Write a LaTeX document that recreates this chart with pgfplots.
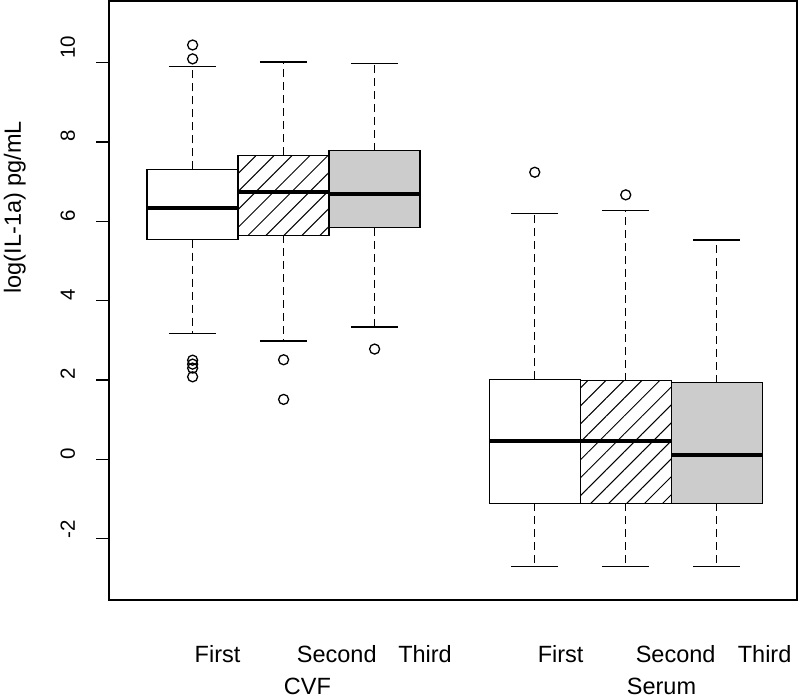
\documentclass[border=0pt]{standalone}
\usepackage{fontspec}
\setmainfont{Liberation Sans}
\usepackage{pgfplots}
\pgfplotsset{compat=1.18}
\usepgfplotslibrary{statistics}
\usetikzlibrary{patterns.meta}
\definecolor{boxgray}{RGB}{204,204,204}
\pgfplotsset{
  boxplot/draw/lower whisker/.code={%
    \draw[black, line width=1.3pt, dash pattern=on 8pt off 5pt]
      (boxplot cs:\pgfplotsboxplotvalue{lower quartile}) --
      (boxplot cs:\pgfplotsboxplotvalue{lower whisker});
    \draw[black, line width=1.3pt, solid]
      (boxplot whisker cs:\pgfplotsboxplotvalue{lower whisker},0) --
      (boxplot whisker cs:\pgfplotsboxplotvalue{lower whisker},1);
  },
  boxplot/draw/upper whisker/.code={%
    \draw[black, line width=1.3pt, dash pattern=on 8pt off 5pt]
      (boxplot cs:\pgfplotsboxplotvalue{upper quartile}) --
      (boxplot cs:\pgfplotsboxplotvalue{upper whisker});
    \draw[black, line width=1.3pt, solid]
      (boxplot whisker cs:\pgfplotsboxplotvalue{upper whisker},0) --
      (boxplot whisker cs:\pgfplotsboxplotvalue{upper whisker},1);
  },
  myout/.style={draw=black, line width=1.3pt, mark=o, mark size=5pt,
    mark options={solid, draw=black, fill=none, line width=1.3pt}},
}
\newcommand{\lab}{\fontsize{23.5}{28}\selectfont}
\newcommand{\tck}{\fontsize{20.5}{24}\selectfont}
\begin{document}
\begin{tikzpicture}
\path[use as bounding box] (-109pt,-99pt) rectangle (691pt,600pt);
\begin{axis}[
  at={(0pt,0pt)}, anchor=south west,
  scale only axis, width=688pt, height=599pt,
  xmin=0.081, xmax=7.642, ymin=-3.55, ymax=11.56,
  xtick=\empty, ytick={-2,0,2,4,6,8,10}, yticklabels={},
  ytick pos=left, tick align=outside, major tick length=13pt,
  axis line style={line width=1.3pt},
  every tick/.style={black, line width=1.3pt},
  clip=false,
  boxplot/draw direction=y,
  boxplot/box extend=1,
  boxplot/whisker extend=0.52,
  boxplot/every median/.style={line width=4pt, black},
]
% CVF First
\addplot[myout, boxplot prepared={draw position=1,
  lower whisker=3.18, lower quartile=5.54, median=6.35, upper quartile=7.31, upper whisker=9.90,
  every box/.style={draw=black, fill=white, line width=1.3pt}}]
  coordinates {(0,10.45) (0,10.10) (0,2.50) (0,2.40) (0,2.30) (0,2.08)};
% CVF Second
\addplot[myout, boxplot prepared={draw position=2,
  lower whisker=2.98, lower quartile=5.65, median=6.73, upper quartile=7.67, upper whisker=10.02,
  every box/.style={draw=black, line width=1.3pt, pattern={Lines[angle=45,distance=12.7pt,line width=1pt]}}}]
  coordinates {(0,2.51) (0,1.51)};
% CVF Third
\addplot[myout, boxplot prepared={draw position=3,
  lower whisker=3.34, lower quartile=5.84, median=6.70, upper quartile=7.78, upper whisker=9.99,
  every box/.style={draw=black, fill=boxgray, line width=1.3pt}}]
  coordinates {(0,2.78)};
% Serum First
\addplot[myout, boxplot prepared={draw position=4.76,
  lower whisker=-2.70, lower quartile=-1.11, median=0.47, upper quartile=2.02, upper whisker=6.20,
  every box/.style={draw=black, fill=white, line width=1.3pt}}]
  coordinates {(0,7.24)};
% Serum Second
\addplot[myout, boxplot prepared={draw position=5.76,
  lower whisker=-2.70, lower quartile=-1.11, median=0.47, upper quartile=1.98, upper whisker=6.27,
  every box/.style={draw=black, line width=1.3pt, pattern={Lines[angle=45,distance=12.7pt,line width=1pt]}}}]
  coordinates {(0,6.67)};
% Serum Third
\addplot[myout, boxplot prepared={draw position=6.76,
  lower whisker=-2.70, lower quartile=-1.11, median=0.12, upper quartile=1.93, upper whisker=5.53,
  every box/.style={draw=black, fill=boxgray, line width=1.3pt}}]
  coordinates {};
% y tick labels
\node[rotate=90, anchor=base west, inner sep=0pt, font=\tck] at ([xshift=-34pt, yshift=4pt]axis cs:0.081,10) {10};
\node[rotate=90, anchor=base west, inner sep=0pt, font=\tck] at ([xshift=-34pt]axis cs:0.081,8) {8};
\node[rotate=90, anchor=base west, inner sep=0pt, font=\tck] at ([xshift=-34pt]axis cs:0.081,6) {6};
\node[rotate=90, anchor=base west, inner sep=0pt, font=\tck] at ([xshift=-34pt]axis cs:0.081,4) {4};
\node[rotate=90, anchor=base west, inner sep=0pt, font=\tck] at ([xshift=-34pt]axis cs:0.081,2) {2};
\node[rotate=90, anchor=base west, inner sep=0pt, font=\tck] at ([xshift=-34pt]axis cs:0.081,0) {0};
\node[rotate=90, anchor=base west, inner sep=0pt, font=\tck] at ([xshift=-34pt]axis cs:0.081,-2) {-2};
% y label
\node[rotate=90, anchor=base, inner sep=0pt, font=\lab] at ([xshift=-88pt]axis cs:0.081,6.36) {log(IL-1a) pg/mL};
% x labels
\node[anchor=base, inner sep=0pt, font=\lab] at ([yshift=-62pt]axis cs:1.274,-3.55) {First};
\node[anchor=base, inner sep=0pt, font=\lab] at ([yshift=-62pt]axis cs:2.584,-3.55) {Second};
\node[anchor=base, inner sep=0pt, font=\lab] at ([yshift=-62pt]axis cs:3.554,-3.55) {Third};
\node[anchor=base, inner sep=0pt, font=\lab] at ([yshift=-94pt]axis cs:2.262,-3.55) {CVF};
\node[anchor=base, inner sep=0pt, font=\lab] at ([yshift=-62pt]axis cs:5.044,-3.55) {First};
\node[anchor=base, inner sep=0pt, font=\lab] at ([yshift=-62pt]axis cs:6.308,-3.55) {Second};
\node[anchor=base, inner sep=0pt, font=\lab] at ([yshift=-62pt]axis cs:7.286,-3.55) {Third};
\node[anchor=base, inner sep=0pt, font=\lab] at ([yshift=-94pt]axis cs:6.153,-3.55) {Serum};
\end{axis}
\end{tikzpicture}
\end{document}
